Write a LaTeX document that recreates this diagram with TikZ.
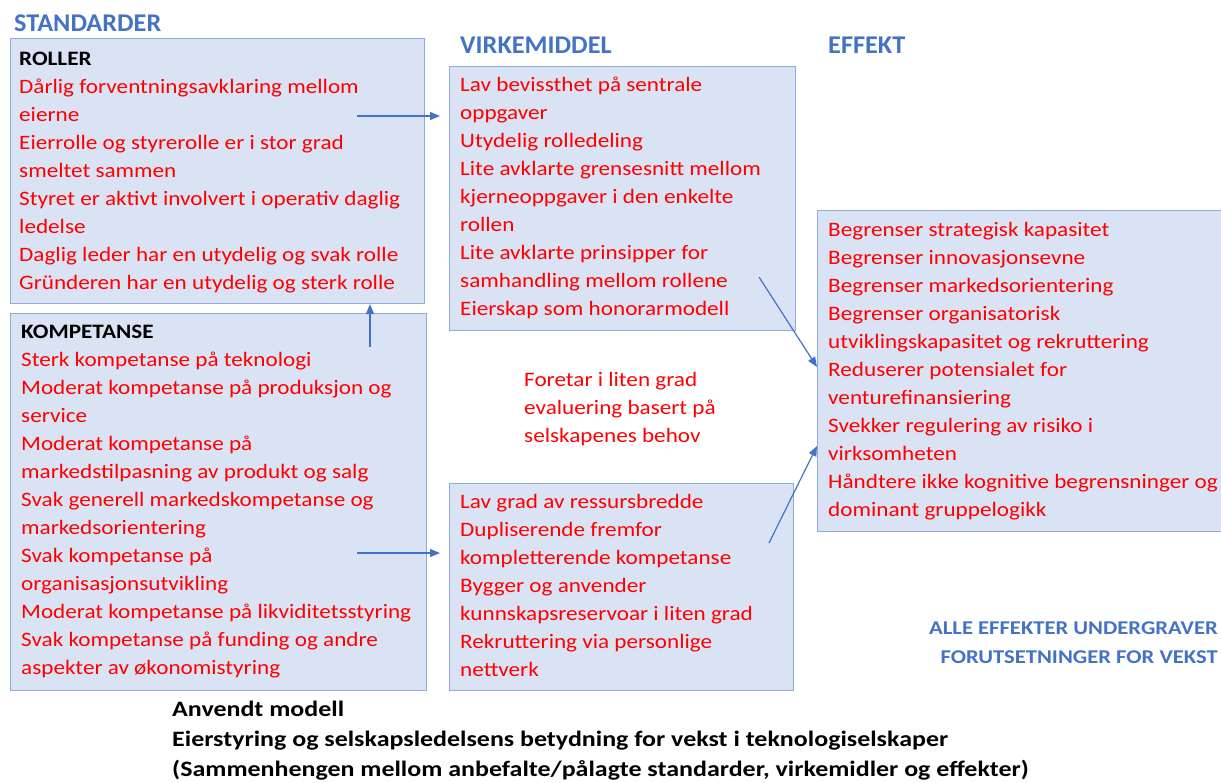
\documentclass[tikz,border=0pt]{standalone}
\usepackage{fontspec}
\setmainfont{Carlito}
\newfontfamily\bodyfont[FakeStretch=1.13]{Carlito}
\newfontfamily\capfont[FakeStretch=1.18]{Carlito}
\newfontfamily\headfont[FakeStretch=1.03]{Carlito}
\newfontfamily\notefont[FakeStretch=1.16]{Carlito}
\usetikzlibrary{arrows.meta}

\definecolor{boxfill}{HTML}{DAE3F3}
\definecolor{boxline}{HTML}{8FAADC}
\definecolor{headblue}{HTML}{4472C4}
\definecolor{itemred}{HTML}{FF0000}

\tikzset{
  panel/.style={draw=boxline, fill=boxfill, line width=1.3pt, anchor=north west, inner sep=0pt},
  lines/.style={anchor=north west, inner sep=0pt, align=left, text=itemred,
                font=\bodyfont\fontsize{20.5}{28}\selectfont},
  heading/.style={anchor=base west, inner sep=0pt, text=headblue,
                  font=\headfont\bfseries\fontsize{25.5}{30}\selectfont},
  link/.style={draw=headblue, line width=1.2pt, -{Triangle[length=10pt,width=8pt]}},
}
\newcommand\bk[1]{\textcolor{black}{\bfseries #1}}

\begin{document}
\begin{tikzpicture}[x=1pt, y=-1pt]
\useasboundingbox (0,0) rectangle (1221,782);

% column headings
\node[heading] (hstd) at (14,31.5) {STANDARDER};
\node[heading] (hvirk) at (460,53) {VIRKEMIDDEL};
\node[heading] (heff) at (828,53) {EFFEKT};

% panels
\node[panel, minimum width=414pt, minimum height=265pt] (roller) at (10,38) {};
\node[panel, minimum width=416pt, minimum height=377pt] (komp) at (10,313) {};
\node[panel, minimum width=346pt, minimum height=264pt] (vtop) at (449,66) {};
\node[panel, minimum width=344pt, minimum height=207pt] (vbot) at (449,483) {};
\node[panel, minimum width=410pt, minimum height=321pt] (eff) at (817,209.5) {};

% panel texts (first baseline sits 19.6 below the node's top)
\node[lines] (troller) at (19,45.6) {%
\strut\bk{ROLLER}\\
\strut Dårlig forventningsavklaring mellom\\
\strut eierne\\
\strut Eierrolle og styrerolle er i stor grad\\
\strut smeltet sammen\\
\strut Styret er aktivt involvert i operativ daglig\\
\strut ledelse\\
\strut Daglig leder har en utydelig og svak rolle\\
\strut Gründeren har en utydelig og sterk rolle};

\node[lines] (tkomp) at (21,318.7) {%
\strut\bk{KOMPETANSE}\\
\strut Sterk kompetanse på teknologi\\
\strut Moderat kompetanse på produksjon og\\
\strut service\\
\strut Moderat kompetanse på\\
\strut markedstilpasning av produkt og salg\\
\strut Svak generell markedskompetanse og\\
\strut markedsorientering\\
\strut Svak kompetanse på\\
\strut organisasjonsutvikling\\
\strut Moderat kompetanse på likviditetsstyring\\
\strut Svak kompetanse på funding og andre\\
\strut aspekter av økonomistyring};

\node[lines] (tvtop) at (460,71.6) {%
\strut Lav bevissthet på sentrale\\
\strut oppgaver\\
\strut Utydelig rolledeling\\
\strut Lite avklarte grensesnitt mellom\\
\strut kjerneoppgaver i den enkelte\\
\strut rollen\\
\strut Lite avklarte prinsipper for\\
\strut samhandling mellom rollene\\
\strut Eierskap som honorarmodell};

\node[lines] (tmid) at (524,366.4) {%
\strut Foretar i liten grad\\
\strut evaluering basert på\\
\strut selskapenes behov};

\node[lines] (tvbot) at (460,488.4) {%
\strut Lav grad av ressursbredde\\
\strut Dupliserende fremfor\\
\strut kompletterende kompetanse\\
\strut Bygger og anvender\\
\strut kunnskapsreservoar i liten grad\\
\strut Rekruttering via personlige\\
\strut nettverk};

\node[lines] (teff) at (828,216.4) {%
\strut Begrenser strategisk kapasitet\\
\strut Begrenser innovasjonsevne\\
\strut Begrenser markedsorientering\\
\strut Begrenser organisatorisk\\
\strut utviklingskapasitet og rekruttering\\
\strut Reduserer potensialet for\\
\strut venturefinansiering\\
\strut Svekker regulering av risiko i\\
\strut virksomheten\\
\strut Håndtere ikke kognitive begrensninger og\\
\strut dominant gruppelogikk};

% conclusion
\node[anchor=north east, inner sep=0pt, align=right, text=headblue,
      font=\notefont\bfseries\fontsize{19.5}{29}\selectfont] (conclusion) at (1218,613.7)
  {\strut ALLE EFFEKTER UNDERGRAVER\\ \strut FORUTSETNINGER FOR VEKST};

% caption
\node[anchor=north west, inner sep=0pt, align=left,
      font=\capfont\bfseries\fontsize{22}{29.8}\selectfont] (caption) at (172,695.8)
  {\strut Anvendt modell\\
   \strut Eierstyring og selskapsledelsens betydning for vekst i teknologiselskaper\\
   \strut (Sammenhengen mellom anbefalte/pålagte standarder, virkemidler og effekter)};

% connector end points
\coordinate (a1s) at (357,116);  \coordinate (a1e) at (440,116);
\coordinate (a2s) at (370,347);  \coordinate (a2e) at (370,304);
\coordinate (a3s) at (357,553);  \coordinate (a3e) at (440,553);
\coordinate (a4s) at (759,277);  \coordinate (a4e) at (817,367);
\coordinate (a5s) at (769,543);  \coordinate (a5e) at (817,446);

\draw[link] (a1s) -- (a1e);
\draw[link] (a2s) -- (a2e);
\draw[link] (a3s) -- (a3e);
\draw[link] (a4s) -- (a4e);
\draw[link] (a5s) -- (a5e);
\end{tikzpicture}
\end{document}
